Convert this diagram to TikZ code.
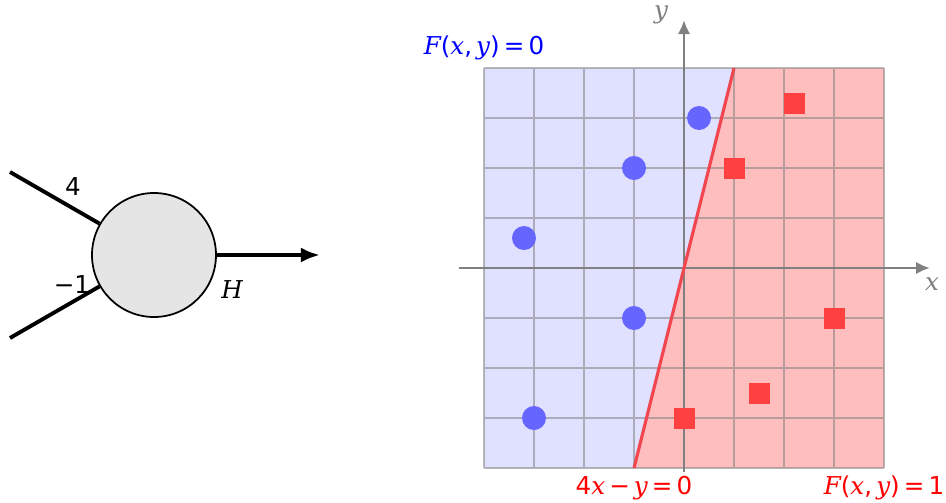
\documentclass[tikz,border=0pt]{standalone}
\usepackage{fontspec}
\setmainfont{DejaVu Sans}
\newfontfamily\varfont{DejaVu Serif}
\newcommand{\var}[1]{{\varfont\itshape #1}}
\definecolor{RegionBlue}{RGB}{224,224,255}
\definecolor{RegionRed} {RGB}{255,190,190}
\definecolor{DotBlue}   {RGB}{102,102,255}
\definecolor{SquareRed} {RGB}{255,64,64}
\definecolor{LineRed}   {RGB}{240,70,80}
\definecolor{AxisGray}  {RGB}{128,128,128}
\usetikzlibrary{arrows.meta,positioning}

\begin{document}
\begin{tikzpicture}[every node/.style={font=\fontsize{14}{16}\selectfont}]
  \useasboundingbox (-13.68,-4.68) rectangle (5.24,5.36);
  % neuron
  \node[circle,draw=black,fill=gray!20,line width=1pt,
        minimum size=2.48cm] (neuron) at (-10.6,0.26) {};
  \coordinate (inA) at (-13.48,1.92);
  \coordinate (inB) at (-13.48,-1.40);
  \coordinate (out) at (-7.28,0.26);
  \draw[line width=2.2pt] (inA) -- (neuron);
  \draw[line width=2.2pt] (inB) -- (neuron);
  \draw[line width=2.2pt,-{Latex[length=3.8mm,width=3mm]}] (neuron) -- (out);
  \node (wA) at (-12.22,1.62) {4};
  \node (wB) at (-12.24,-0.34) {−1};
  \node (hout) at (-9.04,-0.44) {\var{H}};
  % decision regions
  \fill[RegionBlue] (-4,-4) -- (-1,-4) -- (1,4) -- (-4,4) -- cycle;
  \fill[RegionRed]  (-1,-4) -- (4,-4) -- (4,4) -- (1,4) -- cycle;
  \draw[AxisGray,opacity=0.55,line width=0.75pt] (-4,-4) grid (4,4);
  \coordinate (xfrom) at (-4.5,0);
  \coordinate (xto)   at (4.92,0);
  \coordinate (yfrom) at (0,-4.08);
  \coordinate (yto)   at (0,4.96);
  \draw[AxisGray,line width=1.6pt,-{Latex[length=2.8mm,width=2.5mm]}] (xfrom) -- (xto);
  \draw[AxisGray,line width=1.6pt,-{Latex[length=2.8mm,width=2.5mm]}] (yfrom) -- (yto);
  \node[AxisGray] (xlbl) at (4.96,-0.32) {\var{x}};
  \node[AxisGray] (ylbl) at (-0.46,5.06) {\var{y}};
  \coordinate (lineBot) at (-1,-4);
  \coordinate (lineTop) at (1,4);
  \draw[LineRed,line width=1.8pt] (lineBot) -- (lineTop);
  \foreach \x/\y [count=\i] in {0.3/3,-1/2,-3.2/0.6,-1/-1,-3/-3}
    \node[circle,fill=DotBlue,minimum size=0.48cm,inner sep=0pt] (blue\i) at (\x,\y) {};
  \foreach \x/\y [count=\i] in {2.2/3.3,1/2,3/-1,1.5/-2.5,0/-3}
    \node[rectangle,fill=SquareRed,minimum size=0.42cm,inner sep=0pt] (red\i) at (\x,\y) {};
  % labels
  \coordinate (cornerTL) at (-4,4);
  \coordinate (cornerBR) at (4,-4);
  \node[blue,anchor=base] (lblzero) at ([yshift=2.8mm]cornerTL)
    {\var{F}(\var{x},\,\var{y})\,=\,0};
  \node[red,anchor=base] (lblline) at ([yshift=-5.2mm]lineBot)
    {4\var{x}\,−\,\var{y}\,=\,0};
  \node[red,anchor=base] (lblone) at ([yshift=-5.2mm]cornerBR)
    {\var{F}(\var{x},\,\var{y})\,=\,1};
\end{tikzpicture}
\end{document}
